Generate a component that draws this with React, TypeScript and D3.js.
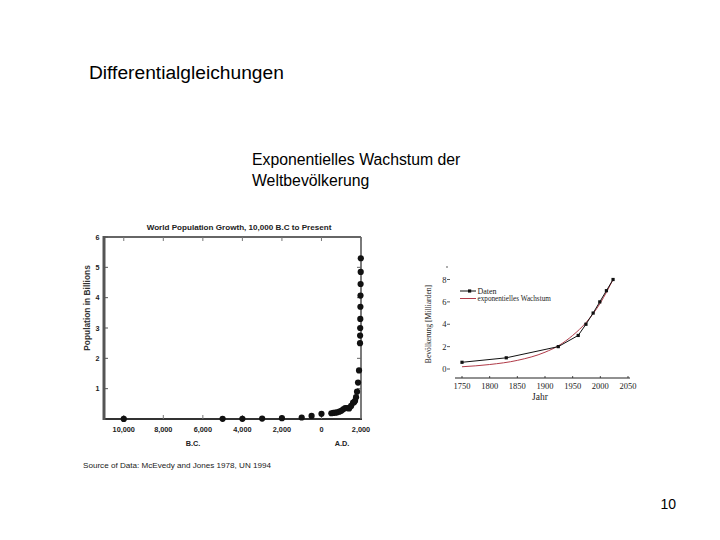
import React from "react";
import * as d3 from "d3";

// Left chart: World population growth (year, billions)
const worldYears = [-10000, -5000, -4000, -3000, -2000, -1000, -500, 1, 500, 600, 700, 800, 900, 1000, 1100, 1200, 1300, 1400, 1500, 1600, 1650, 1700, 1750, 1800, 1850, 1900, 1950, 1955, 1960, 1965, 1970, 1975, 1980, 1985, 1990];
const worldPop = [0.004, 0.005, 0.007, 0.014, 0.027, 0.05, 0.1, 0.17, 0.19, 0.2, 0.21, 0.22, 0.24, 0.27, 0.32, 0.36, 0.36, 0.35, 0.43, 0.54, 0.55, 0.6, 0.72, 0.9, 1.2, 1.6, 2.5, 2.75, 3.0, 3.3, 3.7, 4.07, 4.45, 4.85, 5.3];
const worldXTicks = [-10000, -8000, -6000, -4000, -2000, 0, 2000];
const worldYTicks = [1, 2, 3, 4, 5, 6];

// Right chart: Bevölkerung (Milliarden)
const datenYears = [1750, 1830, 1924, 1960, 1974, 1987, 1999, 2011, 2023];
const datenPop = [0.6, 1, 2, 3, 4, 5, 6, 7, 8];
const expYears = [1750, 1800, 1850, 1900, 1925, 1950, 1975, 2000, 2023];
const expPop = [0.2, 0.4, 0.77, 1.5, 2.1, 3.0, 4.2, 5.9, 8.0];
const jahrTicks = [1750, 1800, 1850, 1900, 1950, 2000, 2050];
const bevTicks = [0, 2, 4, 6, 8];

export default function App() {
  // left chart scales
  const lx = d3.scaleLinear().domain([-11000, 2000]).range([104, 361]);
  const ly = d3.scaleLinear().domain([0, 6]).range([419, 237]);
  const fmt = d3.format(",");
  const arial = "Arial, 'Liberation Sans', sans-serif";
  const serif = "'Times New Roman', 'Liberation Serif', serif";

  // right chart scales
  const rx = d3.scaleLinear().domain([1750, 2050]).range([462, 628]);
  const ry = d3.scaleLinear().domain([0, 8]).range([369, 279.5]);
  const datenLine = d3.line<number>().x((d, i) => rx(datenYears[i])).y((d) => ry(d));
  const expLine = d3
    .line<number>()
    .x((d, i) => rx(expYears[i]))
    .y((d) => ry(d))
    .curve(d3.curveMonotoneX);

  return (
    <svg
      width={720}
      height={540}
      style={{ position: "absolute", left: 0, top: 0, background: "#fff" }}
    >
      <rect x={0} y={0} width={720} height={540} fill="#fff" />
      <text x={89} y={79} fontFamily={arial} fontSize={19.2} fill="#000">
        Differentialgleichungen
      </text>
      <text x={252} y={165} fontFamily={arial} fontSize={15.8} fill="#000">
        Exponentielles Wachstum der
      </text>
      <text x={252} y={186} fontFamily={arial} fontSize={15.8} fill="#000">
        Weltbevölkerung
      </text>
      <text x={676} y={509} fontFamily={arial} fontSize={14} textAnchor="end" fill="#000">
        10
      </text>

      {/* Left chart */}
      <g>
        <text x={239} y={229.5} fontFamily={arial} fontSize={8.1} fontWeight="bold" textAnchor="middle" fill="#222">
          World Population Growth, 10,000 B.C to Present
        </text>
        {/* frame */}
        <line x1={361} x2={361} y1={237} y2={419} stroke="#333" strokeWidth={1.3} />
        <line x1={104} x2={361} y1={237} y2={237} stroke="#333" strokeWidth={1.3} />
        <line x1={104} x2={362} y1={419} y2={419} stroke="#333" strokeWidth={1.8} />
        <line x1={104} x2={104} y1={236} y2={420} stroke="#555" strokeWidth={3} />
        {worldYTicks.map((t) => (
          <g key={"ly" + t}>
            <line x1={105} x2={108} y1={ly(t)} y2={ly(t)} stroke="#555" strokeWidth={1} />
            <line x1={357} x2={361} y1={ly(t)} y2={ly(t)} stroke="#666" strokeWidth={1} />
            <text x={99.5} y={ly(t) + 2.6} fontFamily={arial} fontSize={7.2} fontWeight="bold" textAnchor="end" fill="#222">
              {t}
            </text>
          </g>
        ))}
        {worldXTicks.map((t) => (
          <g key={"lx" + t}>
            <line x1={lx(t)} x2={lx(t)} y1={237} y2={241} stroke="#777" strokeWidth={1} />
            <line x1={lx(t)} x2={lx(t)} y1={415} y2={419} stroke="#777" strokeWidth={1} />
            <text x={lx(t)} y={431.5} fontFamily={arial} fontSize={7.3} fontWeight="bold" textAnchor="middle" fill="#222">
              {fmt(Math.abs(t))}
            </text>
          </g>
        ))}
        <text x={193} y={446} fontFamily={arial} fontSize={7.3} fontWeight="bold" textAnchor="middle" fill="#222">
          B.C.
        </text>
        <text x={342} y={446} fontFamily={arial} fontSize={7.3} fontWeight="bold" textAnchor="middle" fill="#222">
          A.D.
        </text>
        <text
          transform="translate(89.5,308) rotate(-90)"
          fontFamily={arial}
          fontSize={8.4}
          fontWeight="bold"
          textAnchor="middle"
          fill="#333"
        >
          Population in Billions
        </text>
        <text x={83} y={468} fontFamily={arial} fontSize={8.1} fill="#222">
          Source of Data: McEvedy and Jones 1978, UN 1994
        </text>
        {worldPop.map((p, i) => (
          <circle key={"wp" + i} cx={lx(worldYears[i])} cy={ly(p)} r={3.1} fill="#111" />
        ))}
      </g>

      {/* Right chart */}
      <g>
        <line x1={455} x2={630} y1={378} y2={378} stroke="#222" strokeWidth={1} />
        {jahrTicks.map((t) => (
          <g key={"rx" + t}>
            <line x1={rx(t)} x2={rx(t)} y1={378} y2={376} stroke="#222" strokeWidth={0.8} />
            <text x={rx(t)} y={389} fontFamily={serif} fontSize={8.5} textAnchor="middle" fill="#222">
              {t}
            </text>
          </g>
        ))}
        {bevTicks.map((t) => (
          <g key={"ry" + t}>
            <line x1={447} x2={450} y1={ry(t)} y2={ry(t)} stroke="#333" strokeWidth={0.8} />
            <text x={446.5} y={ry(t) + 3} fontFamily={serif} fontSize={8.5} textAnchor="end" fill="#222">
              {t}
            </text>
          </g>
        ))}
        <circle cx={447} cy={267} r={0.8} fill="#444" />
        <text x={540} y={400} fontFamily={serif} fontSize={9.5} textAnchor="middle" fill="#222">
          Jahr
        </text>
        <text
          transform="translate(431,324) rotate(-90)"
          fontFamily={serif}
          fontSize={7.6}
          textAnchor="middle"
          fill="#222"
        >
          Bevölkerung [Milliarden]
        </text>
        <path d={expLine(expPop) || ""} fill="none" stroke="#b03a48" strokeWidth={1} />
        <path d={datenLine(datenPop) || ""} fill="none" stroke="#111" strokeWidth={1} />
        {datenPop.map((p, i) => (
          <rect key={"dp" + i} x={rx(datenYears[i]) - 1.6} y={ry(p) - 1.6} width={3.2} height={3.2} fill="#111" />
        ))}
        {/* legend */}
        <line x1={460} x2={476} y1={291} y2={291} stroke="#111" strokeWidth={1} />
        <rect x={468} y={289.4} width={3.2} height={3.2} fill="#111" />
        <text x={477.5} y={293.5} fontFamily={serif} fontSize={8} fill="#222">
          Daten
        </text>
        <line x1={460} x2={476} y1={298.5} y2={298.5} stroke="#b03a48" strokeWidth={1} />
        <text x={477.5} y={301} fontFamily={serif} fontSize={7.2} fill="#222">
          exponentielles Wachstum
        </text>
      </g>
    </svg>
  );
}
